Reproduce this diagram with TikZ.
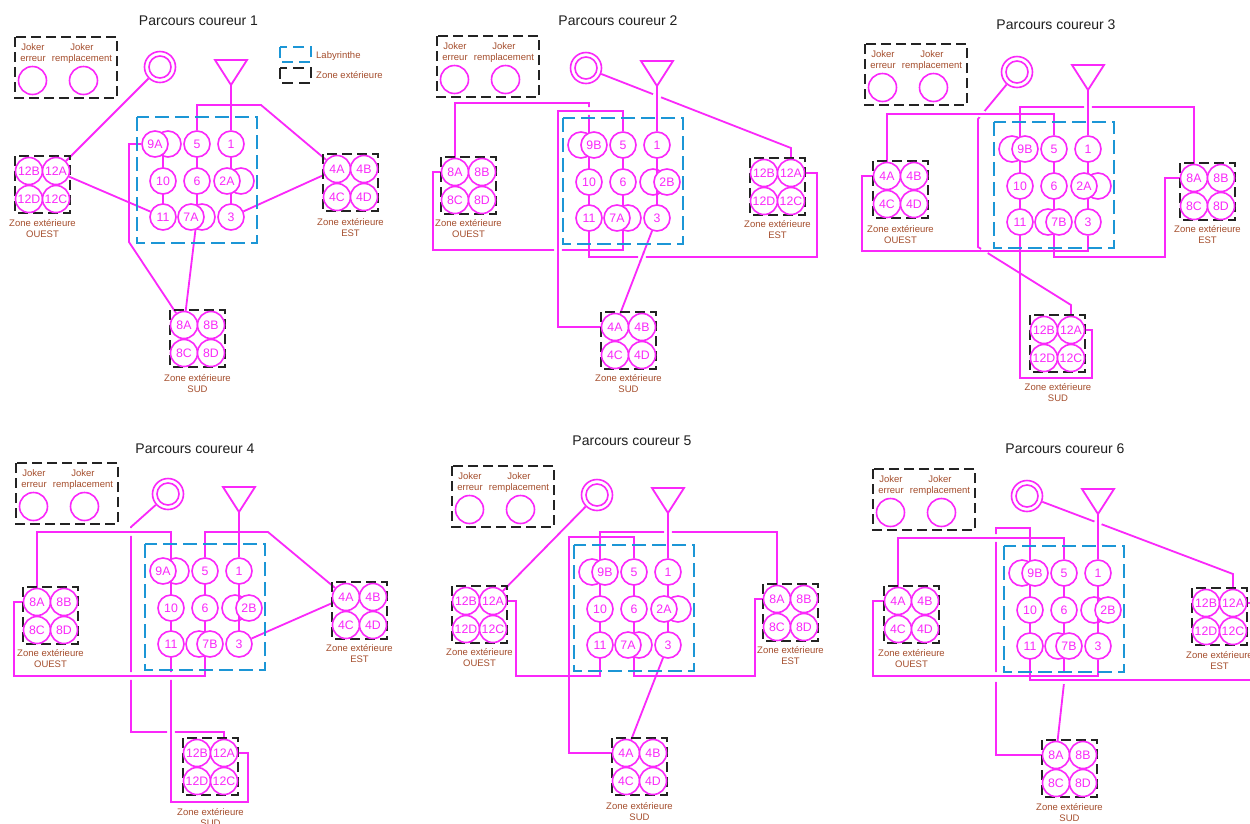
\documentclass[tikz,border=0pt]{standalone}
\usepackage{fontspec}
\setmainfont{Liberation Sans}
\usetikzlibrary{backgrounds,calc}
\definecolor{mag}{RGB}{250,40,250}
\definecolor{labblue}{RGB}{28,150,214}
\definecolor{brownt}{RGB}{165,78,45}
\definecolor{zblack}{RGB}{35,35,35}
\tikzset{
 route/.style={draw=mag, line width=1.8pt},
 lc/.style={circle, draw=mag, fill=white, line width=1.6pt, minimum size=26pt, inner sep=0pt, text=mag, font=\fontsize{12.3}{12.3}\selectfont},
 zc/.style={lc, minimum size=27pt},
 jc/.style={circle, draw=mag, line width=1.6pt, minimum size=28pt, inner sep=0pt},
 ghost/.style={draw=mag, line width=1.6pt},
 fin/.style={circle, draw=mag, line width=1.6pt, minimum size=31pt, inner sep=0pt},
 labbox/.style={draw=labblue, line width=2.6pt, dash pattern=on 14pt off 6pt},
 zbox/.style={draw=zblack, line width=2.2pt, dash pattern=on 10pt off 5pt},
 btxt/.style={text=brownt, font=\fontsize{9.5}{11.3}\selectfont, inner sep=0pt},
 jt/.style={btxt, text height=6.8pt, text depth=0pt},
 ttl/.style={font=\fontsize{14}{14}\selectfont, text=black!88, inner sep=0pt},
}
% variant circle: #1 name, #2 number, #3 col x, #4 row y, #5 letter, #6 left offset, #7 right offset
\newcommand\myvarc[7]{%
 \if A#5
  \draw[ghost] ({#3+#7},#4) circle (13);
  \node[lc] (#1) at ({#3+#6},#4) {#2#5};
 \else
  \draw[ghost] ({#3+#6},#4) circle (13);
  \node[lc] (#1) at ({#3+#7},#4) {#2#5};
 \fi}
% labyrinth: #1 prefix, #2 LX, #3 LY, #4 letter 9, #5 letter 2, #6 letter 7
\newcommand\mylab[6]{%
 \pgfmathsetmacro\ca{#2+26}\pgfmathsetmacro\cb{#2+60}\pgfmathsetmacro\cc{#2+94}%
 \pgfmathsetmacro\ra{#3+27}\pgfmathsetmacro\rb{#3+64}\pgfmathsetmacro\rc{#3+100}%
 \pgfmathsetmacro\ty{#3-32}%
 \draw[labbox] (#2,#3) rectangle ++(120,126);
 \coordinate (#1p1) at (\cc,\ra); \coordinate (#1p2) at (\cc,\rb); \coordinate (#1p3) at (\cc,\rc);
 \coordinate (#1p5) at (\cb,\ra); \coordinate (#1p6) at (\cb,\rb); \coordinate (#1p7) at (\cb,\rc);
 \coordinate (#1p9) at (\ca,\ra); \coordinate (#1p10) at (\ca,\rb); \coordinate (#1p11) at (\ca,\rc);
 \myvarc{#19}{9}{\ca}{\ra}{#4}{-8}{5}
 \myvarc{#12}{2}{\cc}{\rb}{#5}{-4}{10}
 \myvarc{#17}{7}{\cb}{\rc}{#6}{-6}{5}
 \node[lc] (#11) at (#1p1) {1};
 \node[lc] (#13) at (#1p3) {3};
 \node[lc] (#15) at (#1p5) {5};
 \node[lc] (#16) at (#1p6) {6};
 \node[lc] (#110) at (#1p10) {10};
 \node[lc] (#111) at (#1p11) {11};
 \draw[route, line join=miter] ({\cc-16},{\ty-25}) -- ({\cc+16},{\ty-25}) -- (\cc,\ty) -- cycle;
 \coordinate (#1S) at (\cc,\ty);
 \node[fin] (#1F) at ({#2+23},{#3-50}) {};
 \draw[ghost] (#1F.center) circle (11);
}
% zone: #1 prefix, #2 number, #3 x0, #4 y0, #5-#8 letters TL TR BL BR
\newcommand\myzone[8]{%
 \draw[zbox] (#3,#4) rectangle ++(55,57);
 \node[zc] (#1#2#5) at ({#3+14},{#4+15}) {#2#5};
 \node[zc] (#1#2#6) at ({#3+41},{#4+15}) {#2#6};
 \node[zc] (#1#2#7) at ({#3+14},{#4+43}) {#2#7};
 \node[zc] (#1#2#8) at ({#3+41},{#4+43}) {#2#8};
}
\newcommand\myzlab[4]{\node[btxt, align=center, anchor=north] (#1) at (#2,{#3-3.6}) {Zone extérieure\\#4};}
\newcommand\myjoker[3]{%
 \draw[zbox] (#2,#3) rectangle ++(102,61);
 \node[jt] (#1jt1) at ({#2+18},{#3+10}) {Joker};
 \node[jt] (#1jt2) at ({#2+18},{#3+21}) {erreur};
 \node[jt] (#1jt3) at ({#2+67},{#3+10}) {Joker};
 \node[jt] (#1jt4) at ({#2+67},{#3+21}) {remplacement};
 \node[jc] (#1j1) at ({#2+17.5},{#3+43.5}) {};
 \node[jc] (#1j2) at ({#2+68.5},{#3+43.5}) {};
}
\newcommand\mysegs[1]{%
 \draw[route] (#1p1) -- (#1p3);
 \draw[route] (#1p5) -- (#1p7);
 \draw[route] (#1p9) -- (#1p11);
 \draw[route] (#1S) -- (#11);
}
\newcommand\xgap[4]{\fill[white] (#1,#2) circle (#3); \begin{scope}\clip (#1,#2) circle ({#3+1.5}); #4\end{scope}}

\begin{document}
\begin{tikzpicture}[x=1pt,y=-1pt]
\useasboundingbox (0,0) rectangle (1250,823);
% ---------------- panel 1
\node[ttl] (t1) at (198.5,21) {Parcours coureur 1};
\myjoker{a}{15}{37}
\mylab{a}{137}{117}{A}{A}{A}
\myzone{a}{12}{15}{156}{B}{A}{D}{C}
\myzone{a}{4}{323}{154}{A}{B}{C}{D}
\myzone{a}{8}{170}{310}{A}{B}{C}{D}
\myzlab{aLo}{42.5}{223}{OUEST}
\myzlab{aLe}{350.5}{222}{EST}
\myzlab{aLs}{197.5}{378}{SUD}
\draw[labbox, line width=2.3pt, dash pattern=on 11pt off 6pt] (280,47) rectangle (311,62);
\draw[zbox, dash pattern=on 11pt off 6pt] (280,68) rectangle (311,83);
\node[jt, anchor=west] (lg1) at (316,55) {Labyrinthe};
\node[jt, anchor=west] (lg2) at (316,75) {Zone extérieure};
% ---------------- panel 2
\node[ttl] (t2) at (618,21) {Parcours coureur 2};
\myjoker{b}{437}{36}
\mylab{b}{563}{118}{B}{B}{A}
\myzone{b}{8}{441}{157}{A}{B}{C}{D}
\myzone{b}{12}{750}{158}{B}{A}{D}{C}
\myzone{b}{4}{601}{312}{A}{B}{C}{D}
\myzlab{bLo}{468.5}{223}{OUEST}
\myzlab{bLe}{777.5}{224}{EST}
\myzlab{bLs}{628.5}{378}{SUD}
% ---------------- panel 3
\node[ttl] (t3) at (1056,25) {Parcours coureur 3};
\myjoker{c}{865}{44}
\mylab{c}{994}{122}{B}{A}{B}
\myzone{c}{4}{873}{161}{A}{B}{C}{D}
\myzone{c}{8}{1180}{163}{A}{B}{C}{D}
\myzone{c}{12}{1030}{315}{B}{A}{D}{C}
\myzlab{cLo}{900.5}{229}{OUEST}
\myzlab{cLe}{1207.5}{229}{EST}
\myzlab{cLs}{1058}{387}{SUD}
% ---------------- panel 4
\node[ttl] (t4) at (195,449) {Parcours coureur 4};
\myjoker{d}{16}{463}
\mylab{d}{145}{544}{A}{B}{B}
\myzone{d}{8}{23}{587}{A}{B}{C}{D}
\myzone{d}{4}{332}{582}{A}{B}{C}{D}
\myzone{d}{12}{183}{738}{B}{A}{D}{C}
\myzlab{dLo}{50.5}{653}{OUEST}
\myzlab{dLe}{359.5}{648}{EST}
\myzlab{dLs}{210.5}{812}{SUD}
% ---------------- panel 5
\node[ttl] (t5) at (632,441) {Parcours coureur 5};
\myjoker{e}{452}{466}
\mylab{e}{574}{545}{B}{A}{A}
\myzone{e}{12}{452}{586}{B}{A}{D}{C}
\myzone{e}{8}{763}{584}{A}{B}{C}{D}
\myzone{e}{4}{612}{738}{A}{B}{C}{D}
\myzlab{eLo}{479.5}{652}{OUEST}
\myzlab{eLe}{790.5}{650}{EST}
\myzlab{eLs}{639.5}{806}{SUD}
% ---------------- panel 6
\node[ttl] (t6) at (1065,449) {Parcours coureur 6};
\myjoker{f}{873}{469}
\mylab{f}{1004}{546}{B}{B}{B}
\myzone{f}{4}{884}{586}{A}{B}{C}{D}
\myzone{f}{12}{1192}{588}{B}{A}{D}{C}
\myzone{f}{8}{1042}{740}{A}{B}{C}{D}
\myzlab{fLo}{911.5}{653}{OUEST}
\myzlab{fLe}{1219.5}{655}{EST}
\myzlab{fLs}{1069.5}{807}{SUD}

\begin{pgfonlayer}{background}
\fill[white] (0,0) rectangle (1250,823);
\mysegs{a}\mysegs{b}\mysegs{c}\mysegs{d}\mysegs{e}\mysegs{f}
% panel 1
\draw[route] (a3) -- (a4A);
\draw[route] (a4A) -- (261,105) -| (a5);
\draw[route] (ap7) -- (a8A);
\draw[route] (a8A) -- (129,242) |- (a9);
\draw[route] (a11) -- (a12A);
\draw[route] (a12A) -- (aF);
% panel 2
\draw[route] (b3) -- (b4A);
\draw[route] (b4A) -| (558,111) -| (b5);
\draw[route] (bp7) -- (623,250) -| (433,172) -- (b8A);
\draw[route] (b8A) -- (455,103) -| (bp9);
\draw[route] (bp11) -- (589,257) -- (817,257) -- (817,173) -- (b12A);
\draw[route] (b12A) -- (791,148) -- (bF);
\xgap{558}{250}{4}{\draw[route] (b4A) -| (558,111) -| (b5);}
\xgap{589}{111}{4}{\draw[route] (b4A) -| (558,111) -| (b5);}
\xgap{642}{257}{4}{\draw[route] (b3) -- (b4A);}
\xgap{657}{95.7}{4.5}{\draw[route] (bS) -- (b1);}
% panel 3
\draw[route] (c3) -- (1088,251) -| (862,176) -- (c4A);
\draw[route] (c4A) -- (887,114) -| (c5);
\draw[route] (cp7) -- (1054,257) -| (1165,178) -- (c8A);
\draw[route] (c8A) -- (1194,107) -| (cp9);
\draw[route] (cp11) -- (1020,378) -| (1092,330) -- (c12A);
\draw[route] (c12A) -- (1071,305) -- (978,247) -- (978,119) -- (cF);
\xgap{1088}{107}{4}{\draw[route] (cS) -- (c1);}
\xgap{982.1}{114}{4}{\draw[route] (c4A) -- (887,114) -| (c5);}
\xgap{984.4}{251}{4}{\draw[route] (c3) -- (1088,251) -| (862,176) -- (c4A);}
% panel 4
\draw[route] (d3) -- (d4A);
\draw[route] (d4A) -- (268,532) -| (d5);
\draw[route] (dp7) -- (205,676) -| (14,602) -- (d8A);
\draw[route] (d8A) -- (37,532) -| (dp9);
\draw[route] (dp11) -- (171,802) -| (248,753) -- (d12A);
\draw[route] (d12A) -- (224,732) -| (131,527) -- (dF);
\xgap{131}{532}{4}{\draw[route] (d8A) -- (37,532) -| (dp9);}
\xgap{131}{676}{4}{\draw[route] (dp7) -- (205,676) -| (14,602) -- (d8A);}
\xgap{171}{676}{4}{\draw[route] (dp7) -- (205,676) -| (14,602) -- (d8A);}
\xgap{171}{732}{4}{\draw[route] (dp11) -- (171,802) -| (248,753) -- (d12A);}
% panel 5
\draw[route] (e3) -- (e4A);
\draw[route] (e4A) -| (569,537) -| (e5);
\draw[route] (ep7) -- (634,676) -| (755,599) -- (e8A);
\draw[route] (e8A) -- (777,532) -| (ep9);
\draw[route] (ep11) -- (600,676) -| (516,601) -- (e12A);
\draw[route] (e12A) -- (eF);
\xgap{668}{532}{4}{\draw[route] (eS) -- (e1);}
% panel 6
\draw[route] (f3) -- (1098,676) -| (873,601) -- (f4A);
\draw[route] (f4A) -- (898,538) -| (f5);
\draw[route] (fp7) -- (1064,683) -- (f8A);
\draw[route] (f8A) -| (996,528) -| (fp9);
\draw[route] (fp11) -- (1030,680) -- (1262,680) |- (f12A);
\draw[route] (f12A) -- (1233,574) -- (fF);
\xgap{996}{538}{4}{\draw[route] (f4A) -- (898,538) -| (f5);}
\xgap{996}{677}{5}{\draw[route] (f3) -- (1098,676) -| (873,601) -- (f4A);}
\xgap{1064}{678}{6}{\draw[route] (f3) -- (1098,676) -| (873,601) -- (f4A); \draw[route] (fp11) -- (1030,680) -- (1262,680) |- (f12A);}
\xgap{1098}{522.9}{4}{\draw[route] (fS) -- (f1);}
\end{pgfonlayer}
\end{tikzpicture}
\end{document}
